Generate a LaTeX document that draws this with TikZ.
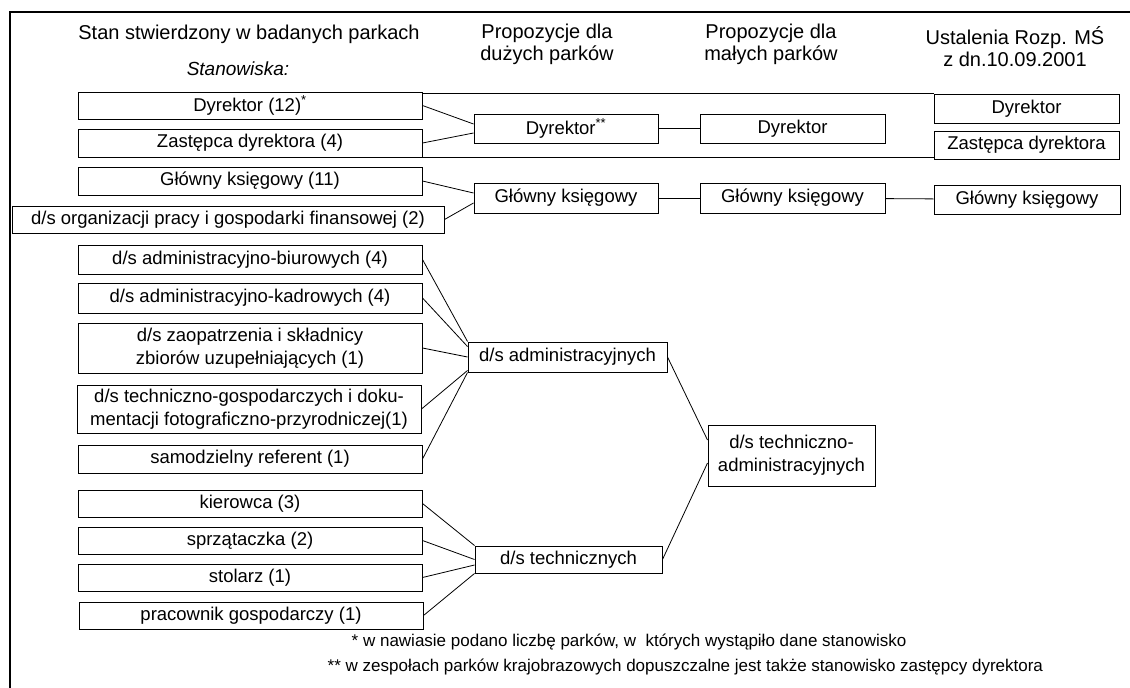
\documentclass[tikz,border=0pt]{standalone}
\usepackage{fontspec}
\setmainfont{Liberation Sans}
\begin{document}
\begin{tikzpicture}[x=1pt, y=-1pt, line width=0.8pt,
  every node/.style={align=center, font=\fontsize{18.5}{23}\selectfont},
  box/.style={draw, line width=1pt, inner sep=0pt, minimum height=28pt},
  col/.style={box, minimum width=344pt},
  head/.style={font=\fontsize{20}{22}\selectfont},
  note/.style={anchor=west, font=\fontsize{17}{20}\selectfont}]
\useasboundingbox (0,0) rectangle (1130,688);
\draw[line width=1.5pt] (1130,12) -- (10,12) -- (10,688); % frame
% headers
\node[head] (hstan) at (249,34) {Stan stwierdzony w badanych parkach};
\node[head] (hduze) at (547,44) {Propozycje dla\\dużych parków};
\node[head] (hmale) at (771,44) {Propozycje dla\\małych parków};
\node[head] (hrozp) at (1015,47) {Ustalenia Rozp. MŚ\\z dn.10.09.2001};
\node[head, font=\fontsize{19}{22}\selectfont\itshape] (hstanow) at (238,69) {Stanowiska:};
% state found in the parks
\node[col, minimum height=27pt] (d12) at (250,105.5) {Dyrektor (12)\textsuperscript{*}};
\node[col] (z4) at (250,143) {Zastępca dyrektora (4)};
\node[col] (g11) at (250,181) {Główny księgowy (11)};
\node[box, minimum width=432pt, minimum height=27pt] (dorg) at (228,219.5) {d/s organizacji pracy i gospodarki finansowej (2)};
\node[col, minimum height=29pt] (b1) at (250,259.5) {d/s administracyjno-biurowych (4)};
\node[col, minimum height=30pt] (b2) at (250,298) {d/s administracyjno-kadrowych (4)};
\node[col, minimum height=50pt] (b3) at (250,348) {d/s zaopatrzenia i składnicy\\zbiorów uzupełniających (1)};
\node[col, minimum height=48pt] (b4) at (249,409) {d/s techniczno-gospodarczych i doku-\\mentacji fotograficzno-przyrodniczej(1)};
\node[col] (b5) at (250,459) {samodzielny referent (1)};
\node[col, minimum height=27pt] (t1) at (250,503.5) {kierowca (3)};
\node[col, minimum height=27pt] (t2) at (250,540.5) {sprzątaczka (2)};
\node[col, minimum height=27pt] (t3) at (250,577.5) {stolarz (1)};
\node[col, minimum height=27pt] (t4) at (251,615.5) {pracownik gospodarczy (1)};
% proposals
\node[box, minimum width=184pt, minimum height=29pt] (dd) at (566,128.5) {Dyrektor\textsuperscript{**}};
\node[box, minimum width=185pt, minimum height=29pt] (dm) at (792.5,128.5) {Dyrektor};
\node[box, minimum width=184pt, minimum height=30pt] (gd) at (566,198) {Główny księgowy};
\node[box, minimum width=185pt, minimum height=30pt] (gm) at (792.5,198) {Główny księgowy};
\node[box, minimum width=199pt, minimum height=30pt] (adm) at (567.5,357) {d/s administracyjnych};
\node[box, minimum width=187pt, minimum height=27pt] (tech) at (568.5,559.5) {d/s technicznych};
\node[box, minimum width=167pt, minimum height=61pt] (ta) at (791.5,455.5) {d/s techniczno-\\administracyjnych};
% regulation
\node[box, minimum width=185pt, minimum height=29pt] (ud) at (1026.5,108.5) {Dyrektor};
\node[box, minimum width=185pt, minimum height=28pt] (uz) at (1026.5,145) {Zastępca dyrektora};
\node[box, minimum width=186pt, minimum height=29pt] (ug) at (1027,199.5) {Główny księgowy};
% connectors
\draw (ud.north west -| d12.east) -- (ud.north west);
\draw (z4.south east) -- (z4.south east -| uz.west);
\draw (d12.east) -- ([yshift=4.5pt]dd.west);
\draw (z4.east) -- ([yshift=-4.5pt]dd.west);
\draw (dd) -- (dm);
\draw (g11.east) -- ([yshift=5pt]gd.west);
\draw (dorg.east) -- ([yshift=-5pt]gd.west);
\draw (gd) -- (gm);
\draw (gm) -- (ug);
\draw (b1.east) -- (adm.north west);
\draw (b2.east) -- ([yshift=-5pt]adm.north west);
\draw (b3.east) -- (adm.west);
\draw (b4.east) -- ([yshift=2pt]adm.south west);
\draw (b5.east) -- (adm.south west);
\draw (t1.east) -- (tech.north west);
\draw (t2.east) -- (tech.west);
\draw (t3.east) -- ([yshift=-5.5pt]tech.west);
\draw (t4.east) -- (tech.south west);
\draw (adm.east) -- ([yshift=15.5pt]ta.west);
\draw (tech.east) -- ([yshift=-7.5pt]ta.west);
% footnotes
\node[note] (n1) at (348,642) {* w nawiasie podano liczbę parków, w\ \ których wystąpiło dane stanowisko};
\node[note] (n2) at (324,667) {** w zespołach parków krajobrazowych dopuszczalne jest także stanowisko zastępcy dyrektora};
\end{tikzpicture}
\end{document}
